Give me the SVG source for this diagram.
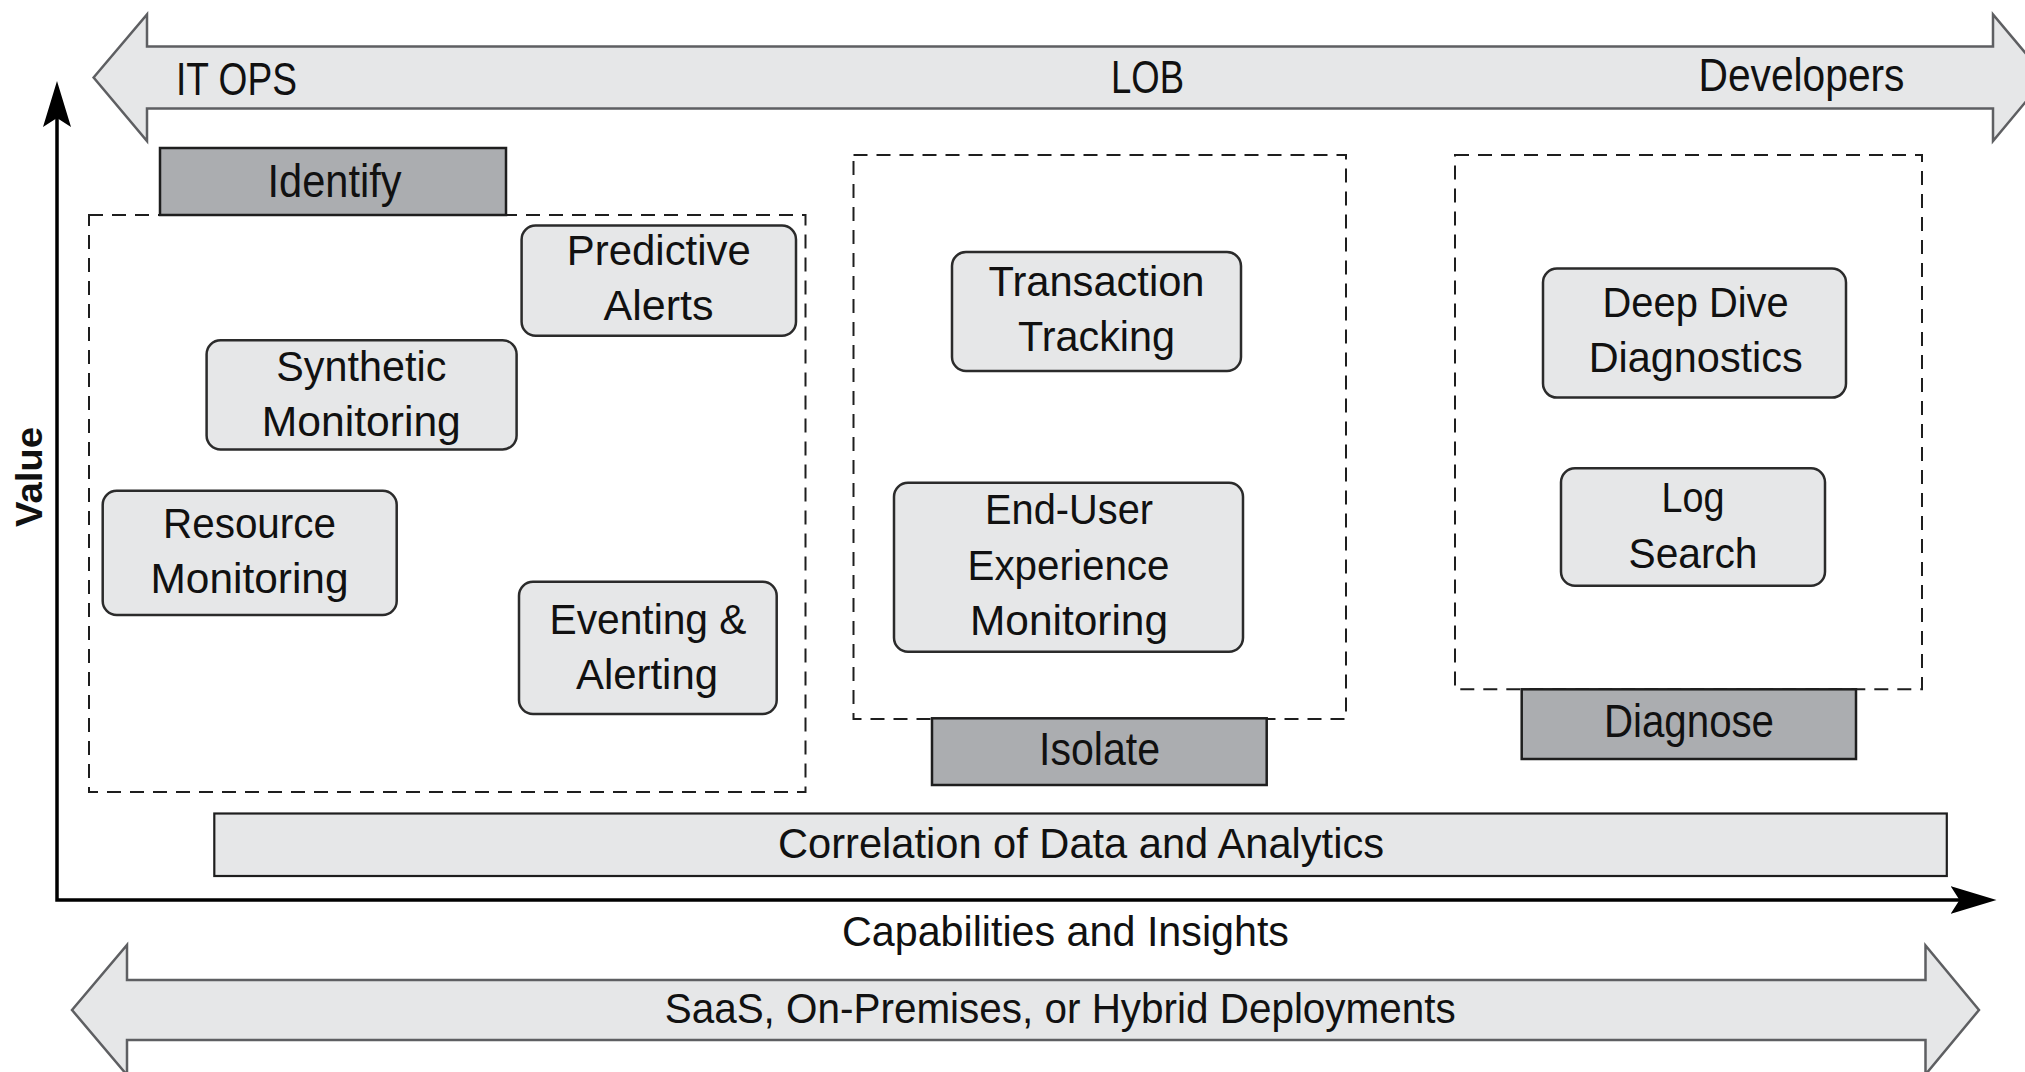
<svg xmlns="http://www.w3.org/2000/svg" width="2025" height="1072" viewBox="0 0 2025 1072">
  <style>
    text { font-family: "Liberation Sans", Arial, sans-serif; font-size: 43px; fill: #111; text-anchor: middle; }
    .big { font-size: 46px; }
    .band { fill: #e6e7e8; stroke: #5e5f62; stroke-width: 2.5; stroke-linejoin: miter; }
    .node { fill: #e6e7e8; stroke: #2b2b2b; stroke-width: 2.5; }
    .label { fill: #abadb0; stroke: #1e1e1e; stroke-width: 2.5; }
    .bar { fill: #e6e7e8; stroke: #1e1e1e; stroke-width: 2.2; }
    .group { fill: none; stroke: #1e1e1e; stroke-width: 2; stroke-dasharray: 14 9; }
    .axis { fill: none; stroke: #000; stroke-width: 3.5; }
    .value { font-weight: bold; font-size: 37px; }
  </style>
  <defs>
    <marker id="axisHead" markerUnits="userSpaceOnUse" markerWidth="46" markerHeight="28" viewBox="0 0 46 28" refX="36" refY="14" orient="auto-start-reverse">
      <path d="M0,0 L46,14 L0,28 L9,14 Z" fill="#000"/>
    </marker>
  </defs>

  <rect width="2025" height="1072" fill="#fff"/>

  <!-- Top audience band -->
  <g id="audience-band">
    <path class="band" d="M93.6,77.5 L147,14.5 L147,46.5 L1993,46.5 L1993,14.5 L2046,77.5 L1993,141 L1993,108.5 L147,108.5 L147,141 Z"/>
    <text class="big" x="176" y="94.5" textLength="121" lengthAdjust="spacingAndGlyphs" style="text-anchor:start">IT OPS</text>
    <text class="big" x="1147.5" y="93.3" textLength="73" lengthAdjust="spacingAndGlyphs">LOB</text>
    <text class="big" x="1801.5" y="91" textLength="206" lengthAdjust="spacingAndGlyphs">Developers</text>
  </g>

  <!-- Dashed groups -->
  <g id="group-identify">
    <rect class="group" x="89" y="215" width="716.5" height="577"/>
  </g>
  <g id="group-isolate">
    <rect class="group" x="853.5" y="155" width="492.5" height="564"/>
  </g>
  <g id="group-diagnose">
    <rect class="group" x="1455" y="155" width="467" height="534.3"/>
  </g>

  <!-- Stage labels -->
  <g id="label-identify">
    <rect class="label" x="160" y="148" width="346" height="67"/>
    <text class="big" x="334.5" y="197" textLength="134" lengthAdjust="spacingAndGlyphs">Identify</text>
  </g>
  <g id="label-isolate">
    <rect class="label" x="932" y="718.3" width="334.7" height="66.7"/>
    <text class="big" x="1099.5" y="765" textLength="121" lengthAdjust="spacingAndGlyphs">Isolate</text>
  </g>
  <g id="label-diagnose">
    <rect class="label" x="1521.7" y="689.3" width="334.3" height="69.7"/>
    <text class="big" x="1689" y="736.7" textLength="170" lengthAdjust="spacingAndGlyphs">Diagnose</text>
  </g>

  <!-- Capability nodes -->
  <g id="node-predictive-alerts">
    <rect class="node" x="521.6" y="225.5" width="274.4" height="110.2" rx="14"/>
    <text x="658.8" y="265.2" textLength="184" lengthAdjust="spacingAndGlyphs">Predictive</text>
    <text x="658.6" y="320.2" textLength="110" lengthAdjust="spacingAndGlyphs">Alerts</text>
  </g>
  <g id="node-synthetic-monitoring">
    <rect class="node" x="206.6" y="340.2" width="310" height="109.2" rx="14"/>
    <text x="361.3" y="380.5" textLength="170" lengthAdjust="spacingAndGlyphs">Synthetic</text>
    <text x="361.3" y="435.6" textLength="199" lengthAdjust="spacingAndGlyphs">Monitoring</text>
  </g>
  <g id="node-resource-monitoring">
    <rect class="node" x="102.7" y="490.7" width="294" height="124.3" rx="14"/>
    <text x="249.5" y="538.3" textLength="173" lengthAdjust="spacingAndGlyphs">Resource</text>
    <text x="249.5" y="593.3" textLength="198" lengthAdjust="spacingAndGlyphs">Monitoring</text>
  </g>
  <g id="node-eventing-alerting">
    <rect class="node" x="519" y="581.7" width="257.7" height="132.3" rx="14"/>
    <text x="648" y="634" textLength="197" lengthAdjust="spacingAndGlyphs">Eventing &amp;</text>
    <text x="647" y="689" textLength="142" lengthAdjust="spacingAndGlyphs">Alerting</text>
  </g>
  <g id="node-transaction-tracking">
    <rect class="node" x="952" y="252" width="289" height="119" rx="14"/>
    <text x="1096.5" y="296.1" textLength="216" lengthAdjust="spacingAndGlyphs">Transaction</text>
    <text x="1096.5" y="351.2" textLength="157" lengthAdjust="spacingAndGlyphs">Tracking</text>
  </g>
  <g id="node-end-user-experience-monitoring">
    <rect class="node" x="894" y="482.7" width="349" height="169" rx="14"/>
    <text x="1069" y="524" textLength="168" lengthAdjust="spacingAndGlyphs">End-User</text>
    <text x="1068.5" y="580" textLength="202" lengthAdjust="spacingAndGlyphs">Experience</text>
    <text x="1069" y="635" textLength="198" lengthAdjust="spacingAndGlyphs">Monitoring</text>
  </g>
  <g id="node-deep-dive-diagnostics">
    <rect class="node" x="1543" y="268.6" width="303" height="129" rx="14"/>
    <text x="1695.6" y="316.8" textLength="186" lengthAdjust="spacingAndGlyphs">Deep Dive</text>
    <text x="1695.7" y="372" textLength="214" lengthAdjust="spacingAndGlyphs">Diagnostics</text>
  </g>
  <g id="node-log-search">
    <rect class="node" x="1561" y="468.3" width="264" height="117.4" rx="14"/>
    <text x="1693" y="511.7" textLength="63" lengthAdjust="spacingAndGlyphs">Log</text>
    <text x="1693" y="567.7" textLength="129" lengthAdjust="spacingAndGlyphs">Search</text>
  </g>

  <!-- Correlation bar -->
  <g id="node-correlation">
    <rect class="bar" x="214.3" y="813.5" width="1732.5" height="62.5"/>
    <text x="1081" y="857.5" textLength="606" lengthAdjust="spacingAndGlyphs">Correlation of Data and Analytics</text>
  </g>

  <!-- Axes -->
  <g id="connectors">
    <path class="axis" d="M57,91 L57,900 L1986.5,900" marker-start="url(#axisHead)" marker-end="url(#axisHead)"/>
  </g>
  <g id="axis-labels">
    <text class="value" transform="translate(42,477) rotate(-90)" textLength="100" lengthAdjust="spacingAndGlyphs">Value</text>
    <text x="1065.5" y="946" textLength="447" lengthAdjust="spacingAndGlyphs">Capabilities and Insights</text>
  </g>

  <!-- Bottom deployment band -->
  <g id="deployment-band">
    <path class="band" d="M72,1010 L127,945 L127,980 L1925.5,980 L1925.5,945.5 L1979,1010 L1925.5,1074.5 L1925.5,1040 L127,1040 L127,1075 Z"/>
    <text x="1060.2" y="1023.3" textLength="791" lengthAdjust="spacingAndGlyphs">SaaS, On-Premises, or Hybrid Deployments</text>
  </g>
</svg>
